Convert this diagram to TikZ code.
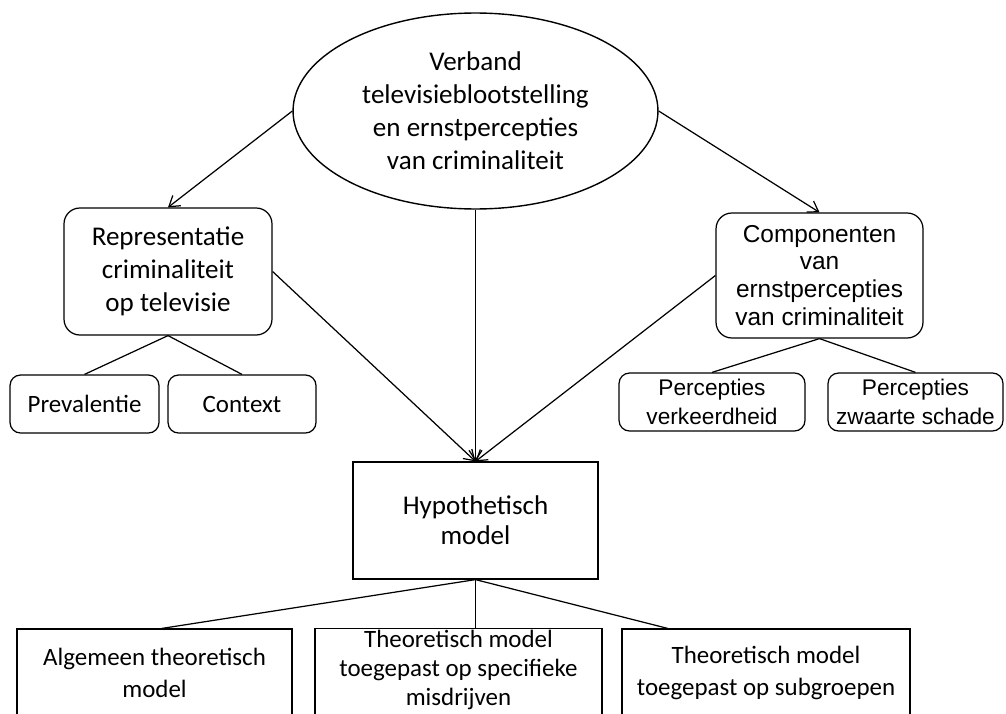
\documentclass[tikz,border=0pt]{standalone}
\usepackage{fontspec}
\setmainfont{Carlito}
\newfontfamily\arialfont{Liberation Sans}
\usetikzlibrary{arrows.meta, shapes.geometric, calc}

\begin{document}
\begin{tikzpicture}[x=0.02cm, y=-0.02cm,
    >={Straight Barb[length=2mm, width=2.6mm]},
    box/.style={
        draw, line width=0.7pt, align=center, inner sep=0pt,
        font=\fontsize{15.4}{18.6}\selectfont
    },
    roundbox/.style={box, rounded corners=9pt},
    leafbox/.style={box, rounded corners=6pt, minimum height=1.16cm,
        font=\fontsize{14.2}{17}\selectfont},
    arialbox/.style={font=\arialfont\fontsize{12.9}{16.5}\selectfont},
    modelbox/.style={box, minimum height=1.76cm,
        font=\fontsize{14.2}{17.9}\selectfont},
    topic/.style={
        draw, line width=0.8pt, ellipse, align=center, inner sep=0pt,
        minimum width=7.3cm, minimum height=3.92cm,
        font=\fontsize{15.4}{18.8}\selectfont
    },
    link/.style={->, line width=0.7pt},
    branch/.style={-, line width=0.7pt},
]

    \clip (0,0) rectangle (1006,713);

    \node[topic] (verband) at (475.5,111)
        {Verband\\televisieblootstelling\\en ernstpercepties\\van criminaliteit};

    \node[roundbox, minimum width=4.16cm, minimum height=2.54cm] (repr) at (168,271.5)
        {Representatie\\criminaliteit\\op televisie};
    \node[leafbox, minimum width=2.98cm] (prev) at (84.5,404) {Prevalentie};
    \node[leafbox, minimum width=2.96cm] (ctx)  at (242,404) {Context};

    \node[roundbox, minimum width=4.14cm, minimum height=2.5cm,
          font=\arialfont\fontsize{13.9}{15.9}\selectfont] (comp) at (819.5,275.5)
        {Componenten\\van\\ernstpercepties\\van criminaliteit};
    \node[leafbox, arialbox, minimum width=3.72cm] (verk) at (712,402)
        {Percepties\\verkeerdheid};
    \node[leafbox, arialbox, minimum width=3.5cm] (zwaar) at (915.5,402)
        {Percepties\\zwaarte schade};

    \node[box, minimum width=4.9cm, minimum height=2.34cm,
          font=\fontsize{15.4}{17}\selectfont] (hyp) at (475.5,520.5)
        {Hypothetisch\\model};

    \node[modelbox, minimum width=5.5cm]  (alg)  at (154.5,673)
        {Algemeen theoretisch\\model};
    \node[modelbox, minimum width=5.74cm] (spec) at (458.5,672.5) {};
    \node[font=\fontsize{14.2}{16.4}\selectfont, align=center, inner sep=0pt]
        (spectext) at (458.5,670)
        {Theoretisch model\\toegepast op specifieke\\misdrijven};
    \node[modelbox, minimum width=5.76cm] (sub)  at (766,673)
        {Theoretisch model\\toegepast op subgroepen};

    % arrows from the main topic
    \draw[link] (verband.west)  -- (repr.north);
    \draw[link] (verband.east)  -- (comp.north);
    \draw[link] (verband.south) -- (hyp.north);
    \draw[link] (repr.east)     -- (hyp.north);
    \draw[link] (comp.west)     -- (hyp.north);

    % sub-components
    \draw[branch] (repr.south) -- (prev.north);
    \draw[branch] (repr.south) -- (ctx.north);
    \draw[branch] (comp.south) -- (verk.north);
    \draw[branch] (comp.south) -- (zwaar.north);

    % model variants
    \draw[branch] (hyp.south) -- ([xshift=0.15cm]alg.north);
    \draw[branch] (hyp.south) -- (hyp.south |- spec.north);
    \draw[branch] (hyp.south) -- ($(sub.north west)!0.16!(sub.north east)$);

\end{tikzpicture}
\end{document}
